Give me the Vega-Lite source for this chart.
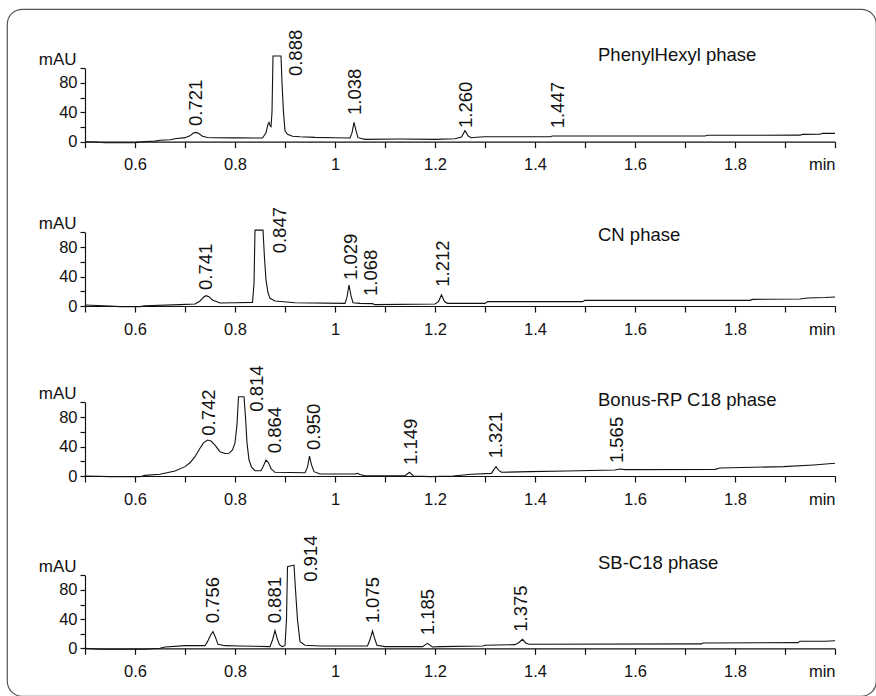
{
  "$schema": "https://vega.github.io/schema/vega-lite/v6.json",
  "width": 869,
  "height": 687,
  "autosize": "none",
  "padding": {"left": 7, "top": 9, "right": 0, "bottom": 0},
  "background": "white",
  "config": {
    "view": {"stroke": "#555", "strokeWidth": 1.2, "cornerRadius": 15},
    "axis": {
      "grid": false,
      "domainColor": "#111",
      "domainWidth": 1.2,
      "tickColor": "#111",
      "tickWidth": 1.2,
      "labelFont": "Liberation Sans",
      "labelFontSize": 16.5,
      "labelColor": "#111",
      "labelOverlap": false,
      "labelFlush": false,
      "labelBound": false,
      "titleFont": "Liberation Sans",
      "titleFontSize": 17,
      "titleFontWeight": "normal",
      "titleColor": "#111"
    },
    "axisX": {"tickSize": 6, "labelPadding": 9},
    "axisY": {"tickSize": 5, "labelPadding": 3}
  },
  "datasets": {
    "trace1": [
      {"t": 0.5, "v": 0}, {"t": 0.52, "v": -0.5}, {"t": 0.54, "v": -1.4}, {"t": 0.58, "v": -1.4}, {"t": 0.6, "v": -1.2},
      {"t": 0.62, "v": 0.3}, {"t": 0.64, "v": 0.8}, {"t": 0.65, "v": 2.0}, {"t": 0.67, "v": 2.6}, {"t": 0.68, "v": 4.0},
      {"t": 0.7, "v": 5.5}, {"t": 0.71, "v": 8.0}, {"t": 0.716, "v": 11.5}, {"t": 0.721, "v": 12.7}, {"t": 0.727, "v": 11.5},
      {"t": 0.735, "v": 7.5}, {"t": 0.745, "v": 5.8}, {"t": 0.76, "v": 5.4}, {"t": 0.8, "v": 5.2}, {"t": 0.855, "v": 5.0},
      {"t": 0.862, "v": 12}, {"t": 0.866, "v": 24}, {"t": 0.868, "v": 26.4}, {"t": 0.87, "v": 22}, {"t": 0.872, "v": 20.4},
      {"t": 0.874, "v": 40}, {"t": 0.876, "v": 116.8}, {"t": 0.892, "v": 116.8}, {"t": 0.894, "v": 80}, {"t": 0.897, "v": 40},
      {"t": 0.9, "v": 15}, {"t": 0.905, "v": 10}, {"t": 0.915, "v": 7.5}, {"t": 0.93, "v": 6.8}, {"t": 0.96, "v": 5.9},
      {"t": 1.0, "v": 5.4}, {"t": 1.03, "v": 5.0}, {"t": 1.034, "v": 12}, {"t": 1.038, "v": 26.4}, {"t": 1.042, "v": 15},
      {"t": 1.046, "v": 5.5}, {"t": 1.06, "v": 3.2}, {"t": 1.13, "v": 3.6}, {"t": 1.2, "v": 3.2}, {"t": 1.24, "v": 4.0},
      {"t": 1.253, "v": 6.5}, {"t": 1.26, "v": 15}, {"t": 1.266, "v": 8}, {"t": 1.272, "v": 5.4}, {"t": 1.29, "v": 6.4},
      {"t": 1.3, "v": 6.8}, {"t": 1.43, "v": 6.8}, {"t": 1.435, "v": 7.8}, {"t": 1.74, "v": 7.8}, {"t": 1.745, "v": 8.7},
      {"t": 1.93, "v": 8.9}, {"t": 1.935, "v": 10.0}, {"t": 1.97, "v": 10.2}, {"t": 1.975, "v": 11.4}, {"t": 2.0, "v": 11.4}
    ],
    "peaks1": [
      {"rt": "0.721", "t": 0.722, "v": 21.4},
      {"rt": "0.888", "t": 0.922, "v": 89.4},
      {"rt": "1.038", "t": 1.039, "v": 36.4},
      {"rt": "1.260", "t": 1.261, "v": 18.7},
      {"rt": "1.447", "t": 1.445, "v": 18.2}
    ],
    "trace2": [
      {"t": 0.5, "v": 1.4}, {"t": 0.55, "v": 0}, {"t": 0.57, "v": -0.9}, {"t": 0.61, "v": -0.9}, {"t": 0.62, "v": 0.4},
      {"t": 0.69, "v": 1.8}, {"t": 0.72, "v": 2.7}, {"t": 0.73, "v": 6.8}, {"t": 0.737, "v": 12}, {"t": 0.742, "v": 14},
      {"t": 0.748, "v": 12.5}, {"t": 0.755, "v": 8.1}, {"t": 0.77, "v": 4}, {"t": 0.8, "v": 4.5}, {"t": 0.835, "v": 4.9},
      {"t": 0.838, "v": 30}, {"t": 0.84, "v": 103}, {"t": 0.856, "v": 103}, {"t": 0.859, "v": 65}, {"t": 0.862, "v": 35},
      {"t": 0.866, "v": 18}, {"t": 0.87, "v": 10.4}, {"t": 0.88, "v": 6.8}, {"t": 0.92, "v": 4.5}, {"t": 1.02, "v": 3.6},
      {"t": 1.024, "v": 12}, {"t": 1.028, "v": 28.5}, {"t": 1.032, "v": 14}, {"t": 1.036, "v": 4.5}, {"t": 1.05, "v": 3.6},
      {"t": 1.075, "v": 3.2}, {"t": 1.08, "v": 1.8}, {"t": 1.2, "v": 2.7}, {"t": 1.207, "v": 6}, {"t": 1.213, "v": 15},
      {"t": 1.219, "v": 6}, {"t": 1.225, "v": 3.6}, {"t": 1.3, "v": 3.6}, {"t": 1.305, "v": 5.9}, {"t": 1.495, "v": 5.9},
      {"t": 1.5, "v": 7.7}, {"t": 1.83, "v": 7.7}, {"t": 1.835, "v": 9}, {"t": 1.93, "v": 9.5}, {"t": 1.945, "v": 10.9},
      {"t": 1.98, "v": 11.5}, {"t": 2.0, "v": 12.2}
    ],
    "peaks2": [
      {"rt": "0.741", "t": 0.742, "v": 21.7},
      {"rt": "0.847", "t": 0.889, "v": 71.5},
      {"rt": "1.029", "t": 1.0316, "v": 35.3},
      {"rt": "1.068", "t": 1.0716, "v": 13.6},
      {"rt": "1.212", "t": 1.215, "v": 26.2}
    ],
    "trace3": [
      {"t": 0.5, "v": 0}, {"t": 0.55, "v": -0.9}, {"t": 0.61, "v": -0.9}, {"t": 0.62, "v": 0.9}, {"t": 0.65, "v": 2.3},
      {"t": 0.68, "v": 6.8}, {"t": 0.7, "v": 12.7}, {"t": 0.71, "v": 18}, {"t": 0.72, "v": 26.2}, {"t": 0.73, "v": 37.6},
      {"t": 0.737, "v": 45}, {"t": 0.745, "v": 48.8}, {"t": 0.752, "v": 47.5}, {"t": 0.76, "v": 42}, {"t": 0.77, "v": 33},
      {"t": 0.78, "v": 30.5}, {"t": 0.788, "v": 30.8}, {"t": 0.795, "v": 35.3}, {"t": 0.8, "v": 45}, {"t": 0.804, "v": 70},
      {"t": 0.807, "v": 107.6}, {"t": 0.818, "v": 107.6}, {"t": 0.821, "v": 80}, {"t": 0.824, "v": 45}, {"t": 0.828, "v": 22},
      {"t": 0.833, "v": 12}, {"t": 0.84, "v": 7.2}, {"t": 0.852, "v": 7.2}, {"t": 0.857, "v": 14}, {"t": 0.862, "v": 21.7},
      {"t": 0.867, "v": 18}, {"t": 0.872, "v": 10}, {"t": 0.88, "v": 5}, {"t": 0.94, "v": 4.5}, {"t": 0.945, "v": 12},
      {"t": 0.949, "v": 27.1}, {"t": 0.953, "v": 15}, {"t": 0.958, "v": 5.9}, {"t": 0.97, "v": 2.7}, {"t": 1.04, "v": 2.7},
      {"t": 1.045, "v": 3.6}, {"t": 1.05, "v": 2.0}, {"t": 1.06, "v": 0.4}, {"t": 1.14, "v": 0.4}, {"t": 1.149, "v": 5},
      {"t": 1.157, "v": 0}, {"t": 1.19, "v": -0.9}, {"t": 1.236, "v": 0}, {"t": 1.273, "v": 2.3}, {"t": 1.313, "v": 3.6},
      {"t": 1.317, "v": 8}, {"t": 1.322, "v": 12.7}, {"t": 1.327, "v": 8}, {"t": 1.333, "v": 5}, {"t": 1.39, "v": 5.9},
      {"t": 1.463, "v": 6.8}, {"t": 1.56, "v": 8.1}, {"t": 1.57, "v": 9.5}, {"t": 1.58, "v": 8.6}, {"t": 1.76, "v": 9},
      {"t": 1.77, "v": 10.9}, {"t": 1.897, "v": 12.7}, {"t": 1.957, "v": 15}, {"t": 2.0, "v": 17.2}
    ],
    "peaks3": [
      {"rt": "0.742", "t": 0.747, "v": 54.7},
      {"rt": "0.814", "t": 0.843, "v": 87.3},
      {"rt": "0.864", "t": 0.88, "v": 30.8},
      {"rt": "0.950", "t": 0.957, "v": 35.3},
      {"rt": "1.149", "t": 1.1517, "v": 15},
      {"rt": "1.321", "t": 1.3217, "v": 24},
      {"rt": "1.565", "t": 1.563, "v": 17.5}
    ],
    "trace4": [
      {"t": 0.5, "v": 0}, {"t": 0.53, "v": -1.4}, {"t": 0.62, "v": -1.4}, {"t": 0.65, "v": 0}, {"t": 0.66, "v": 1.8},
      {"t": 0.7, "v": 3.6}, {"t": 0.74, "v": 3.6}, {"t": 0.745, "v": 9.1}, {"t": 0.751, "v": 18}, {"t": 0.756, "v": 22.8},
      {"t": 0.761, "v": 15}, {"t": 0.766, "v": 5.4}, {"t": 0.78, "v": 3.6}, {"t": 0.81, "v": 3.2}, {"t": 0.87, "v": 2.3},
      {"t": 0.875, "v": 11.4}, {"t": 0.88, "v": 24.2}, {"t": 0.885, "v": 12}, {"t": 0.889, "v": 5}, {"t": 0.894, "v": 2.3},
      {"t": 0.9, "v": 3.6}, {"t": 0.903, "v": 40}, {"t": 0.905, "v": 111.8}, {"t": 0.918, "v": 114}, {"t": 0.921, "v": 80},
      {"t": 0.925, "v": 38.8}, {"t": 0.93, "v": 9.1}, {"t": 0.94, "v": 4.1}, {"t": 0.97, "v": 3.2}, {"t": 1.065, "v": 3.2},
      {"t": 1.07, "v": 12}, {"t": 1.075, "v": 23.7}, {"t": 1.08, "v": 12}, {"t": 1.084, "v": 4.1}, {"t": 1.1, "v": 2.3},
      {"t": 1.175, "v": 2.3}, {"t": 1.185, "v": 6.8}, {"t": 1.195, "v": 1.8}, {"t": 1.21, "v": 2.3}, {"t": 1.296, "v": 3.2},
      {"t": 1.3, "v": 4.1}, {"t": 1.36, "v": 5.0}, {"t": 1.368, "v": 8}, {"t": 1.375, "v": 12.3}, {"t": 1.382, "v": 7},
      {"t": 1.388, "v": 5.5}, {"t": 1.733, "v": 6}, {"t": 1.736, "v": 7.3}, {"t": 1.926, "v": 7.8}, {"t": 1.93, "v": 9.6},
      {"t": 1.98, "v": 9.6}, {"t": 2.0, "v": 10.4}
    ],
    "peaks4": [
      {"rt": "0.756", "t": 0.755, "v": 34.2},
      {"rt": "0.881", "t": 0.88, "v": 34.2},
      {"rt": "0.914", "t": 0.9517, "v": 91},
      {"rt": "1.075", "t": 1.075, "v": 34.2},
      {"rt": "1.185", "t": 1.185, "v": 18},
      {"rt": "1.375", "t": 1.372, "v": 22.7}
    ]
  },
  "layer": [
    {
      "layer": [
        {
          "data": {"name": "trace1"},
          "mark": {"type": "line", "color": "#111", "strokeWidth": 1.1},
          "encoding": {
            "x": {"field": "t", "type": "quantitative",
              "scale": {"domain": [0.5, 2.0], "range": [78, 828], "nice": false, "zero": false},
              "axis": {"orient": "bottom", "offset": -554.3, "title": null,
                "values": [0.5,0.55,0.6,0.65,0.7,0.75,0.8,0.85,0.9,0.95,1.0,1.05,1.1,1.15,1.2,1.25,1.3,1.35,1.4,1.45,1.5,1.55,1.6,1.65,1.7,1.75,1.8,1.85,1.9,1.95,2.0],
                "labelExpr": "datum.value > 1.99 ? 'min' : (abs(datum.value*5 - round(datum.value*5)) < 0.001 ? format(datum.value, '~g') : '')",
                "labelAlign": {"condition": {"test": "datum.value > 1.99", "value": "right"}, "value": "center"}}},
            "y": {"field": "v", "type": "quantitative",
              "scale": {"domain": [0, 100], "range": [132.7, 59.3], "nice": false, "zero": false},
              "axis": {"orient": "left", "offset": -78, "values": [0,20,40,60,80,100],
                "labelExpr": "datum.value % 40 == 0 ? datum.label : ''",
                "title": "mAU", "titleAngle": 0, "titleX": -9, "titleY": 55.8, "titleAlign": "right", "titleBaseline": "alphabetic"}}
          }
        },
        {
          "data": {"name": "peaks1"},
          "mark": {"type": "text", "angle": 270, "align": "left", "baseline": "middle", "font": "Liberation Sans", "fontSize": 18.5, "color": "#111"},
          "encoding": {
            "x": {"field": "t", "type": "quantitative"},
            "y": {"field": "v", "type": "quantitative"},
            "text": {"field": "rt"}
          }
        },
        {
          "data": {"values": [{"label": "PhenylHexyl phase"}]},
          "mark": {"type": "text", "align": "left", "baseline": "alphabetic", "font": "Liberation Sans", "fontSize": 18.5, "color": "#111"},
          "encoding": {
            "x": {"datum": 1.526, "type": "quantitative"},
            "y": {"datum": 110, "type": "quantitative"},
            "text": {"field": "label"}
          }
        }
      ]
    },
    {
      "layer": [
        {
          "data": {"name": "trace2"},
          "mark": {"type": "line", "color": "#111", "strokeWidth": 1.1},
          "encoding": {
            "x": {"field": "t", "type": "quantitative",
              "scale": {"domain": [0.5, 2.0], "range": [78, 828], "nice": false, "zero": false},
              "axis": {"orient": "bottom", "offset": -390, "title": null,
                "values": [0.5,0.55,0.6,0.65,0.7,0.75,0.8,0.85,0.9,0.95,1.0,1.05,1.1,1.15,1.2,1.25,1.3,1.35,1.4,1.45,1.5,1.55,1.6,1.65,1.7,1.75,1.8,1.85,1.9,1.95,2.0],
                "labelExpr": "datum.value > 1.99 ? 'min' : (abs(datum.value*5 - round(datum.value*5)) < 0.001 ? format(datum.value, '~g') : '')",
                "labelAlign": {"condition": {"test": "datum.value > 1.99", "value": "right"}, "value": "center"}}},
            "y": {"field": "v", "type": "quantitative",
              "scale": {"domain": [0, 100], "range": [297, 223.3], "nice": false, "zero": false},
              "axis": {"orient": "left", "offset": -78, "values": [0,20,40,60,80,100],
                "labelExpr": "datum.value % 40 == 0 ? datum.label : ''",
                "title": "mAU", "titleAngle": 0, "titleX": -9, "titleY": 219.8, "titleAlign": "right", "titleBaseline": "alphabetic"}}
          }
        },
        {
          "data": {"name": "peaks2"},
          "mark": {"type": "text", "angle": 270, "align": "left", "baseline": "middle", "font": "Liberation Sans", "fontSize": 18.5, "color": "#111"},
          "encoding": {
            "x": {"field": "t", "type": "quantitative"},
            "y": {"field": "v", "type": "quantitative"},
            "text": {"field": "rt"}
          }
        },
        {
          "data": {"values": [{"label": "CN phase"}]},
          "mark": {"type": "text", "align": "left", "baseline": "alphabetic", "font": "Liberation Sans", "fontSize": 18.5, "color": "#111"},
          "encoding": {
            "x": {"datum": 1.526, "type": "quantitative"},
            "y": {"datum": 88.2, "type": "quantitative"},
            "text": {"field": "label"}
          }
        }
      ]
    },
    {
      "layer": [
        {
          "data": {"name": "trace3"},
          "mark": {"type": "line", "color": "#111", "strokeWidth": 1.1},
          "encoding": {
            "x": {"field": "t", "type": "quantitative",
              "scale": {"domain": [0.5, 2.0], "range": [78, 828], "nice": false, "zero": false},
              "axis": {"orient": "bottom", "offset": -220, "title": null,
                "values": [0.5,0.55,0.6,0.65,0.7,0.75,0.8,0.85,0.9,0.95,1.0,1.05,1.1,1.15,1.2,1.25,1.3,1.35,1.4,1.45,1.5,1.55,1.6,1.65,1.7,1.75,1.8,1.85,1.9,1.95,2.0],
                "labelExpr": "datum.value > 1.99 ? 'min' : (abs(datum.value*5 - round(datum.value*5)) < 0.001 ? format(datum.value, '~g') : '')",
                "labelAlign": {"condition": {"test": "datum.value > 1.99", "value": "right"}, "value": "center"}}},
            "y": {"field": "v", "type": "quantitative",
              "scale": {"domain": [0, 100], "range": [467, 393.3], "nice": false, "zero": false},
              "axis": {"orient": "left", "offset": -78, "values": [0,20,40,60,80,100],
                "labelExpr": "datum.value % 40 == 0 ? datum.label : ''",
                "title": "mAU", "titleAngle": 0, "titleX": -9, "titleY": 389.8, "titleAlign": "right", "titleBaseline": "alphabetic"}}
          }
        },
        {
          "data": {"name": "peaks3"},
          "mark": {"type": "text", "angle": 270, "align": "left", "baseline": "middle", "font": "Liberation Sans", "fontSize": 18.5, "color": "#111"},
          "encoding": {
            "x": {"field": "t", "type": "quantitative"},
            "y": {"field": "v", "type": "quantitative"},
            "text": {"field": "rt"}
          }
        },
        {
          "data": {"values": [{"label": "Bonus-RP C18 phase"}]},
          "mark": {"type": "text", "align": "left", "baseline": "alphabetic", "font": "Liberation Sans", "fontSize": 18.5, "color": "#111"},
          "encoding": {
            "x": {"datum": 1.526, "type": "quantitative"},
            "y": {"datum": 95.4, "type": "quantitative"},
            "text": {"field": "label"}
          }
        }
      ]
    },
    {
      "layer": [
        {
          "data": {"name": "trace4"},
          "mark": {"type": "line", "color": "#111", "strokeWidth": 1.1},
          "encoding": {
            "x": {"field": "t", "type": "quantitative",
              "scale": {"domain": [0.5, 2.0], "range": [78, 828], "nice": false, "zero": false},
              "axis": {"orient": "bottom", "offset": -47.7, "title": null,
                "values": [0.5,0.55,0.6,0.65,0.7,0.75,0.8,0.85,0.9,0.95,1.0,1.05,1.1,1.15,1.2,1.25,1.3,1.35,1.4,1.45,1.5,1.55,1.6,1.65,1.7,1.75,1.8,1.85,1.9,1.95,2.0],
                "labelExpr": "datum.value > 1.99 ? 'min' : (abs(datum.value*5 - round(datum.value*5)) < 0.001 ? format(datum.value, '~g') : '')",
                "labelAlign": {"condition": {"test": "datum.value > 1.99", "value": "right"}, "value": "center"}}},
            "y": {"field": "v", "type": "quantitative",
              "scale": {"domain": [0, 100], "range": [639.3, 566.3], "nice": false, "zero": false},
              "axis": {"orient": "left", "offset": -78, "values": [0,20,40,60,80,100],
                "labelExpr": "datum.value % 40 == 0 ? datum.label : ''",
                "title": "mAU", "titleAngle": 0, "titleX": -9, "titleY": 562.8, "titleAlign": "right", "titleBaseline": "alphabetic"}}
          }
        },
        {
          "data": {"name": "peaks4"},
          "mark": {"type": "text", "angle": 270, "align": "left", "baseline": "middle", "font": "Liberation Sans", "fontSize": 18.5, "color": "#111"},
          "encoding": {
            "x": {"field": "t", "type": "quantitative"},
            "y": {"field": "v", "type": "quantitative"},
            "text": {"field": "rt"}
          }
        },
        {
          "data": {"values": [{"label": "SB-C18 phase"}]},
          "mark": {"type": "text", "align": "left", "baseline": "alphabetic", "font": "Liberation Sans", "fontSize": 18.5, "color": "#111"},
          "encoding": {
            "x": {"datum": 1.526, "type": "quantitative"},
            "y": {"datum": 108.2, "type": "quantitative"},
            "text": {"field": "label"}
          }
        }
      ]
    }
  ],
  "resolve": {
    "scale": {"x": "independent", "y": "independent"},
    "axis": {"x": "independent", "y": "independent"}
  }
}
